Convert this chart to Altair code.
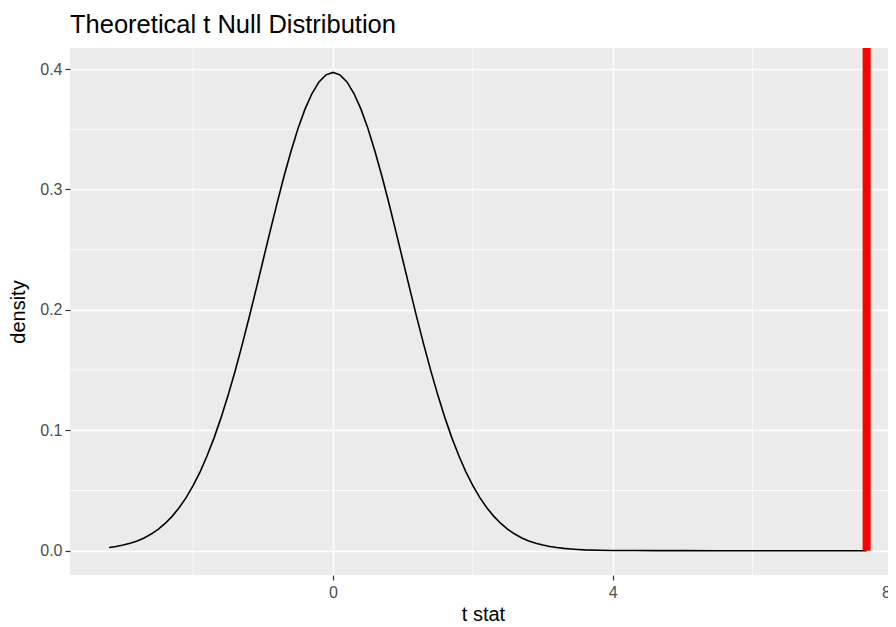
import altair as alt
import pandas as pd

# ---- data ----
t_vals = [
    -3.2, -3.1, -3.0, -2.9, -2.8, -2.7, -2.6, -2.5, -2.4, -2.3, -2.2, -2.1,
    -2.0, -1.9, -1.8, -1.7, -1.6, -1.5, -1.4, -1.3, -1.2, -1.1, -1.0, -0.9,
    -0.8, -0.7, -0.6, -0.5, -0.4, -0.3, -0.2, -0.1, 0.0, 0.1, 0.2, 0.3,
    0.4, 0.5, 0.6, 0.7, 0.8, 0.9, 1.0, 1.1, 1.2, 1.3, 1.4, 1.5,
    1.6, 1.7, 1.8, 1.9, 2.0, 2.1, 2.2, 2.3, 2.4, 2.5, 2.6, 2.7,
    2.8, 2.9, 3.0, 3.1, 3.2, 3.3, 3.4, 3.5, 3.6, 3.8, 4.0, 4.3,
    4.6, 5.0, 5.5, 6.0, 6.5, 7.0, 7.63,
]
density_vals = [
    0.0026, 0.0035, 0.0047, 0.0062, 0.0081, 0.0106, 0.0138, 0.0177, 0.0226, 0.0285, 0.0356, 0.0441,
    0.0540, 0.0655, 0.0788, 0.0937, 0.1105, 0.1290, 0.1491, 0.1707, 0.1934, 0.2170, 0.2410, 0.2650,
    0.2885, 0.3110, 0.3318, 0.3506, 0.3667, 0.3797, 0.3893, 0.3952, 0.3972, 0.3952, 0.3893, 0.3797,
    0.3667, 0.3506, 0.3318, 0.3110, 0.2885, 0.2650, 0.2410, 0.2170, 0.1934, 0.1707, 0.1491, 0.1290,
    0.1105, 0.0937, 0.0788, 0.0655, 0.0540, 0.0441, 0.0356, 0.0285, 0.0226, 0.0177, 0.0138, 0.0106,
    0.0081, 0.0062, 0.0047, 0.0035, 0.0026, 0.0019, 0.0014, 0.0010, 0.0007, 0.0004, 0.0002, 0.0001,
    0.00004, 0.00001, 0.0, 0.0, 0.0, 0.0, 0.0,
]
observed_stat = [7.63]

x_major = [0, 4, 8]
x_minor = [-2, 2, 6]
y_major = [0.0, 0.1, 0.2, 0.3, 0.4]
y_minor = [0.05, 0.15, 0.25, 0.35]

x_domain = [-3.76, 8.05]
y_domain = [-0.0202, 0.4175]

curve_df = pd.DataFrame({"t": t_vals, "density": density_vals})
vline_df = pd.DataFrame({"t": observed_stat, "y0": [0.0]})
xminor_df = pd.DataFrame({"v": x_minor})
yminor_df = pd.DataFrame({"v": y_minor})

FONT = "Liberation Sans"
GRID = "#FFFFFF"

xscale = alt.Scale(domain=x_domain, nice=False, zero=False)
yscale = alt.Scale(domain=y_domain, nice=False, zero=False)

x_axis = alt.Axis(
    values=x_major, format="d", title="t stat", grid=True, gridColor=GRID, gridWidth=1.6,
    domain=False, tickColor="#333333", tickSize=5, tickWidth=1.2,
    labelColor="#4D4D4D", labelFontSize=16, labelFont=FONT, labelPadding=4,
    labelFlush=8, labelFlushOffset=-2,
    titleFont=FONT, titleFontSize=20, titleFontWeight="normal", titleColor="#000000",
    titlePadding=4,
)
y_axis = alt.Axis(
    values=y_major, format=".1f", title="density", grid=True, gridColor=GRID, gridWidth=1.6,
    domain=False, tickColor="#333333", tickSize=5, tickWidth=1.2,
    labelColor="#4D4D4D", labelFontSize=16, labelFont=FONT, labelPadding=3,
    titleFont=FONT, titleFontSize=20, titleFontWeight="normal", titleColor="#000000",
    titlePadding=11,
)

xminor = alt.Chart(xminor_df).mark_rule(color=GRID, strokeWidth=0.8).encode(
    x=alt.X("v:Q", scale=xscale, axis=x_axis)
)
yminor = alt.Chart(yminor_df).mark_rule(color=GRID, strokeWidth=0.8).encode(
    y=alt.Y("v:Q", scale=yscale, axis=y_axis)
)

curve = alt.Chart(curve_df).mark_line(color="#000000", strokeWidth=1.6).encode(
    x=alt.X("t:Q", scale=xscale, axis=x_axis),
    y=alt.Y("density:Q", scale=yscale, axis=y_axis),
)

vline = alt.Chart(vline_df).mark_rule(color="#FF0000", strokeWidth=8).encode(
    x=alt.X("t:Q", scale=xscale),
    y=alt.Y("y0:Q", scale=yscale),
    y2=alt.value(0),
)

chart = (
    alt.layer(xminor, yminor, curve, vline)
    .properties(
        width=826,
        height=527,
        title=alt.TitleParams(
            "Theoretical t Null Distribution", anchor="start", frame="group",
            font=FONT, fontSize=25.5, fontWeight="normal", color="#000000", offset=6,
        ),
        autosize=alt.AutoSizeParams(type="none"),
        padding={"left": 62, "top": 40, "right": -8, "bottom": 50},
        background="#FFFFFF",
    )
    .configure_view(fill="#EBEBEB", stroke=None)
)

chart.save("out.html", embed_options={"renderer": "svg", "actions": False})
